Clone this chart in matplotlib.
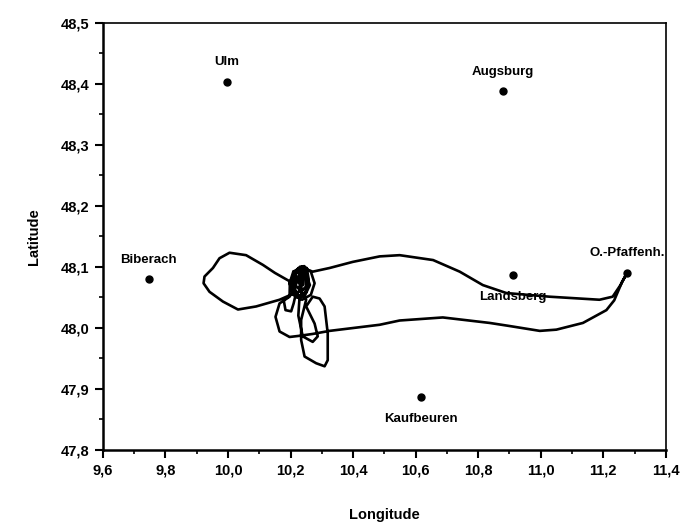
import matplotlib
matplotlib.use("Agg")
import matplotlib.pyplot as plt
from matplotlib.ticker import MultipleLocator, FuncFormatter

plt.rcParams["font.family"] = ["Liberation Sans", "DejaVu Sans"]
plt.rcParams["font.weight"] = "bold"

# towns (lon, lat)
towns = ["Ulm", "Augsburg", "Biberach", "Landsberg", "O.-Pfaffenh.", "Kaufbeuren"]
town_lon = [9.997, 10.88, 9.747, 10.911, 11.276, 10.616]
town_lat = [48.403, 48.388, 48.080, 48.087, 48.090, 47.887]
label_below = [False, False, False, True, False, True]

# flight track
track_lon = [
    10.235, 10.209, 10.197, 10.209, 10.237, 10.265, 10.277, 10.265, 10.237, 10.209,
    10.215, 10.225, 10.232, 10.228, 10.218, 10.212, 10.215,
    10.240, 10.252, 10.258, 10.250, 10.238, 10.232, 10.240,
    10.222, 10.205, 10.205, 10.220, 10.245, 10.262, 10.248, 10.222,
    10.212, 10.210, 10.225, 10.245, 10.255, 10.248, 10.232, 10.215, 10.218, 10.235,
    10.250, 10.245, 10.228, 10.222, 10.240, 10.238, 10.225, 10.230, 10.244, 10.256,
    10.250, 10.271,
    10.325, 10.399, 10.485, 10.549, 10.656, 10.741, 10.815, 10.890, 11.028, 11.188,
    11.230, 11.255, 11.274,
    11.260, 11.235, 11.210, 11.135, 11.050, 10.997, 10.900, 10.837, 10.687, 10.549,
    10.485, 10.389, 10.325, 10.271, 10.230, 10.197, 10.165, 10.152, 10.165, 10.197,
    10.198, 10.150, 10.112, 10.058, 10.005, 9.973, 9.952, 9.925, 9.922, 9.941,
    9.984, 10.032, 10.090, 10.165, 10.205,
    10.230, 10.250, 10.234, 10.234, 10.245, 10.282, 10.309, 10.319, 10.319, 10.309,
    10.293, 10.271, 10.250, 10.277, 10.287, 10.271, 10.239, 10.225, 10.229,
    10.215, 10.205, 10.178, 10.184, 10.202, 10.210, 10.218,
]
track_lat = [
    48.070, 48.092, 48.073, 48.054, 48.046, 48.054, 48.073, 48.092, 48.100, 48.092,
    48.090, 48.098, 48.085, 48.060, 48.055, 48.070, 48.090,
    48.095, 48.098, 48.080, 48.058, 48.055, 48.075, 48.095,
    48.094, 48.080, 48.065, 48.050, 48.052, 48.070, 48.090, 48.094,
    48.085, 48.065, 48.052, 48.055, 48.072, 48.092, 48.098, 48.088, 48.068, 48.060,
    48.068, 48.088, 48.090, 48.075, 48.070, 48.085, 48.094, 48.100, 48.101, 48.094,
    48.096, 48.092,
    48.098, 48.108, 48.117, 48.119, 48.111, 48.092, 48.070, 48.057, 48.051, 48.046,
    48.051, 48.070, 48.088,
    48.075, 48.045, 48.029, 48.008, 47.997, 47.995, 48.003, 48.008, 48.017, 48.012,
    48.005, 47.999, 47.995, 47.990, 47.987, 47.985, 47.994, 48.018, 48.040, 48.051,
    48.076, 48.090, 48.103, 48.119, 48.123, 48.114, 48.098, 48.084, 48.073, 48.059,
    48.043, 48.030, 48.035, 48.046, 48.055,
    48.060, 48.046, 48.013, 47.980, 47.953, 47.942, 47.937, 47.947, 47.991, 48.035,
    48.048, 48.051, 48.035, 48.007, 47.986, 47.977, 47.986, 48.020, 48.051,
    48.060, 48.055, 48.046, 48.029, 48.027, 48.040, 48.058,
]

fig = plt.figure(figsize=(6.95, 5.25), dpi=100)
ax = fig.add_axes([0.148, 0.143, 0.810, 0.814])

ax.plot(track_lon, track_lat, color="black", lw=1.9, solid_joinstyle="round")
ax.plot(town_lon, town_lat, "o", color="black", ms=5)
for name, x, y, below in zip(towns, town_lon, town_lat, label_below):
    ax.annotate(name, (x, y), xytext=(0, -16 if below else 14), textcoords="offset points",
                ha="center", va="center", fontsize=9.5, fontweight="bold")

ax.set_xlim(9.6, 11.4)
ax.set_ylim(47.8, 48.5)
ax.xaxis.set_major_locator(MultipleLocator(0.2))
ax.xaxis.set_minor_locator(MultipleLocator(0.1))
ax.yaxis.set_major_locator(MultipleLocator(0.1))
ax.yaxis.set_minor_locator(MultipleLocator(0.05))
comma = FuncFormatter(lambda v, p: f"{v:.1f}".replace(".", ","))
ax.xaxis.set_major_formatter(comma)
ax.yaxis.set_major_formatter(comma)
ax.tick_params(which="major", direction="out", length=6, width=1.5, labelsize=10.5)
ax.tick_params(which="minor", direction="out", length=3, width=1.2)
ax.tick_params(top=False, right=False, which="both")
for side in ["left", "bottom"]:
    ax.spines[side].set_linewidth(1.8)
for side in ["top", "right"]:
    ax.spines[side].set_linewidth(1.2)

ax.set_xlabel("Longitude", fontsize=10.5, fontweight="bold", labelpad=22)
ax.set_ylabel("Latitude", fontsize=10.5, fontweight="bold", labelpad=14)

fig.savefig("out.png", dpi=100)
